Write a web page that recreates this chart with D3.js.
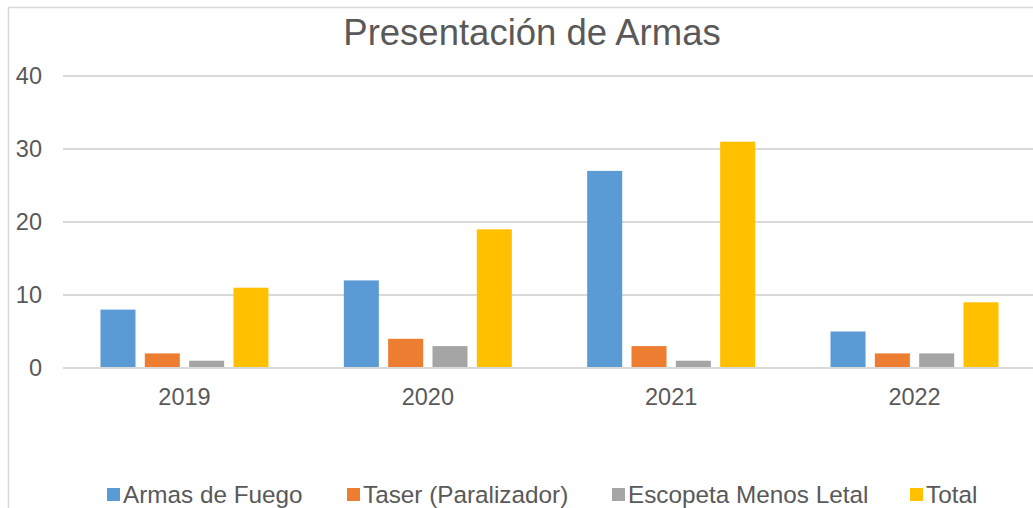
<!DOCTYPE html>
<html>
<head>
<meta charset="utf-8">
<script src="https://cdn.jsdelivr.net/npm/d3@7"></script>
<style>
  body { margin: 0; background: #fff; }
  svg { display: block; font-family: "Liberation Sans", Arial, sans-serif; }
</style>
</head>
<body>
<div id="chart"></div>
<script>
// Data
const years = ["2019", "2020", "2021", "2022"];
const seriesNames = ["Armas de Fuego", "Taser (Paralizador)", "Escopeta Menos Letal", "Total"];
const armasFuego = [8, 12, 27, 5];
const taser = [2, 4, 3, 2];
const escopeta = [1, 3, 1, 2];
const total = [11, 19, 31, 9];
const yTicks = [0, 10, 20, 30, 40];
const colors = ["#5B9BD5", "#ED7D31", "#A5A5A5", "#FFC000"];

const seriesValues = [armasFuego, taser, escopeta, total];
const rows = years.map((y, i) => ({
    year: y,
    values: seriesNames.map((s, j) => ({ key: s, value: seriesValues[j][i], color: colors[j] }))
}));

const canvas = { w: 1033, h: 508 };
const textColor = "#595959";
const gridColor = "#d9d9d9";

const svg = d3.select("#chart")
    .append("svg")
    .attr("width", canvas.w)
    .attr("height", canvas.h);

// chart border (extends past the window)
svg.append("rect")
    .attr("x", 8.5).attr("y", 7.5)
    .attr("width", 1200).attr("height", 600)
    .attr("fill", "none")
    .attr("stroke", gridColor)
    .attr("stroke-width", 1.5);

// Scales
const x = d3.scaleBand()
    .domain(years)
    .range([62.8, 1036.2])
    .paddingInner(0)
    .paddingOuter(0);

const xInner = d3.scaleBand()
    .domain(seriesNames)
    .range([0, x.bandwidth()])
    .paddingInner(0.21)
    .paddingOuter(0.85);

const y = d3.scaleLinear()
    .domain([0, 40])
    .range([368, 76]);

// Gridlines
svg.append("g")
    .selectAll("line")
    .data(yTicks)
    .join("line")
    .attr("x1", 63).attr("x2", canvas.w + 10)
    .attr("y1", d => y(d)).attr("y2", d => y(d))
    .attr("stroke", gridColor)
    .attr("stroke-width", 2);

// Y axis labels
const yAxis = d3.axisLeft(y).tickValues(yTicks).tickSize(0).tickPadding(0);
svg.append("g")
    .attr("transform", "translate(42,0)")
    .call(yAxis)
    .call(g => g.select(".domain").remove())
    .call(g => g.selectAll("text")
        .attr("fill", textColor)
        .attr("font-size", "23.5px")
        .attr("font-family", "Liberation Sans, Arial, sans-serif"));

// Bars
const groups = svg.append("g")
    .selectAll("g")
    .data(rows)
    .join("g")
    .attr("transform", d => `translate(${x(d.year)},0)`);

groups.selectAll("rect")
    .data(d => d.values)
    .join("rect")
    .attr("x", d => xInner(d.key))
    .attr("width", xInner.bandwidth())
    .attr("y", d => y(d.value))
    .attr("height", d => y(0) - y(d.value) - 1)
    .attr("fill", d => d.color);

// X axis labels
const xAxis = d3.axisBottom(x).tickSize(0).tickPadding(0);
svg.append("g")
    .attr("transform", "translate(0,388)")
    .call(xAxis)
    .call(g => g.select(".domain").remove())
    .call(g => g.selectAll("text")
        .attr("fill", textColor)
        .attr("font-size", "23.5px")
        .attr("font-family", "Liberation Sans, Arial, sans-serif"));

// Title
svg.append("text")
    .attr("x", 532)
    .attr("y", 45)
    .attr("text-anchor", "middle")
    .attr("fill", textColor)
    .attr("font-size", "36.5px")
    .text("Presentación de Armas");

// Legend
const legendX = [107, 347, 612, 910];
const legend = svg.append("g")
    .selectAll("g")
    .data(seriesNames)
    .join("g")
    .attr("transform", (d, i) => `translate(${legendX[i]},488)`);

legend.append("rect")
    .attr("width", 13).attr("height", 13)
    .attr("fill", (d, i) => colors[i]);

legend.append("text")
    .attr("x", 16)
    .attr("y", 15)
    .attr("fill", textColor)
    .attr("font-size", "24.3px")
    .text(d => d);
</script>
</body>
</html>
